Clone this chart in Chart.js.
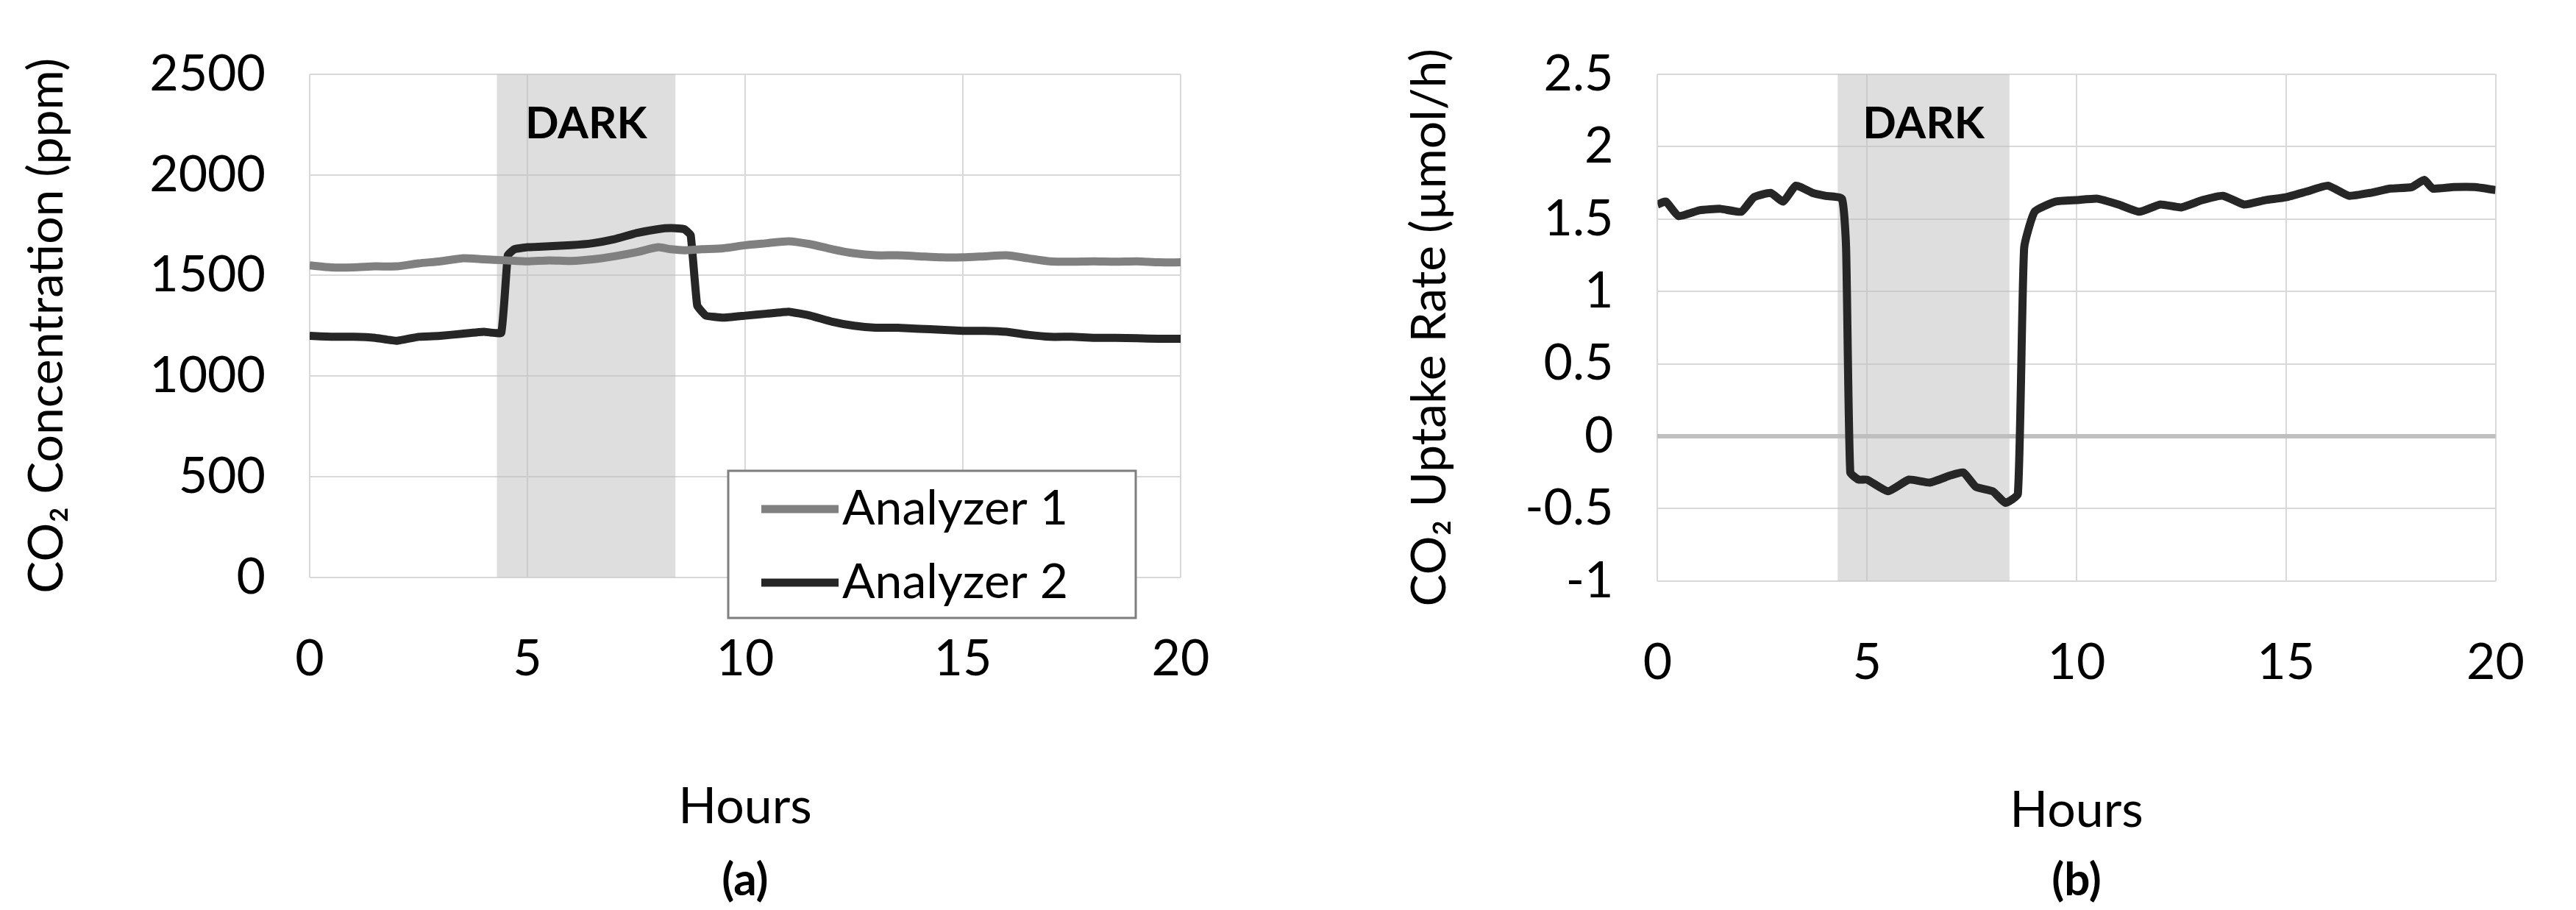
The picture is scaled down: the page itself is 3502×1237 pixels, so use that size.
<!DOCTYPE html>
<html><head><meta charset="utf-8">
<script src="https://cdn.jsdelivr.net/npm/chart.js@4"></script>
<style>
html,body{margin:0;padding:0;background:#fff;}
#wrap{position:relative;width:3502px;height:1237px;}
.c{position:absolute;top:0;height:1237px;}
</style></head><body>
<div id="wrap">
<div class="c" style="left:0;width:1750px"><canvas id="a"></canvas></div>
<div class="c" style="left:1750px;width:1752px"><canvas id="b"></canvas></div>
</div>
<script>
const hoursA1 = [0,0.5,1,1.5,2,2.5,3,3.5,4,4.5,5,5.5,6,6.5,7,7.5,8,8.3,8.6,9,9.5,10,10.5,11,11.5,12,12.5,13,13.5,14,14.5,15,15.5,16,16.5,17,17.5,18,18.5,19,19.5,20];
const analyzer1  = [1550,1540,1540,1545,1545,1560,1570,1585,1580,1575,1570,1575,1572,1580,1595,1615,1640,1630,1625,1630,1635,1650,1660,1670,1655,1630,1610,1600,1600,1595,1590,1590,1595,1600,1585,1570,1568,1570,1568,1570,1565,1565];
const hoursA2 = [0,0.5,1,1.5,2,2.5,3,3.5,4,4.4,4.55,4.7,5,5.5,6,6.5,7,7.5,8,8.3,8.6,8.75,8.9,9.1,9.5,10,10.5,11,11.5,12,12.5,13,13.5,14,14.5,15,15.5,16,16.5,17,17.5,18,18.5,19,19.5,20];
const analyzer2  = [1200,1195,1195,1190,1175,1195,1200,1210,1220,1215,1600,1630,1640,1645,1650,1660,1680,1710,1730,1735,1730,1700,1350,1300,1290,1300,1310,1320,1300,1270,1250,1240,1240,1235,1230,1225,1225,1220,1205,1195,1195,1190,1190,1188,1185,1185];
const hoursB = [0,0.2,0.5,1,1.5,2,2.3,2.7,3,3.3,3.7,4,4.4,4.5,4.6,4.8,5,5.5,6,6.5,7,7.3,7.6,8,8.3,8.6,8.75,9,9.5,10,10.5,11,11.5,12,12.5,13,13.5,14,14.5,15,15.5,16,16.5,17,17.5,18,18.3,18.5,19,19.5,20];
const uptake = [1.6,1.62,1.52,1.56,1.57,1.55,1.65,1.68,1.62,1.73,1.68,1.66,1.64,1.3,-0.25,-0.3,-0.3,-0.38,-0.3,-0.32,-0.27,-0.25,-0.35,-0.38,-0.46,-0.4,1.3,1.55,1.62,1.63,1.64,1.6,1.55,1.6,1.58,1.63,1.66,1.6,1.63,1.65,1.69,1.73,1.66,1.68,1.71,1.72,1.77,1.71,1.72,1.72,1.7];
const darkStart = 4.3, darkEnd = 8.4;
const xTicks = [0,5,10,15,20];

const FONT = 'Lato, "Open Sans", sans-serif';
Chart.defaults.font.family = FONT;
Chart.defaults.color = '#000';

function pts(xs, ys){ return xs.map((x,i)=>({x, y: ys[i]})); }

const darkPlugin = {
  id:'dark',
  beforeDatasetsDraw(chart){
    const {ctx, chartArea:a, scales:{x}} = chart;
    const l = x.getPixelForValue(darkStart), r = x.getPixelForValue(darkEnd);
    ctx.save();
    ctx.fillStyle = 'rgba(190,190,190,0.5)';
    ctx.fillRect(l, a.top, r-l, a.bottom-a.top);
    ctx.fillStyle = '#000';
    ctx.font = 'bold 60px ' + FONT;
    ctx.textAlign = 'center'; ctx.textBaseline = 'middle';
    ctx.fillText('DARK', (l+r)/2, a.top + 68);
    ctx.restore();
  },
  afterDraw(chart){
    const {ctx, chartArea:a} = chart;
    ctx.save();
    ctx.fillStyle = '#000';
    ctx.font = 'bold 62px ' + FONT;
    ctx.textAlign = 'center'; ctx.textBaseline = 'middle';
    ctx.fillText(chart.options.plugins.caption, (a.left+a.right)/2, 1197);
    ctx.restore();
  }
};

const legendPlugin = {
  id:'boxlegend',
  afterDraw(chart){
    if(!chart.options.plugins.boxlegend) return;
    const {ctx} = chart;
    const bx=990, by=640, bw=554, bh=200;
    ctx.save();
    ctx.fillStyle='#fff'; ctx.fillRect(bx,by,bw,bh);
    ctx.strokeStyle='#7f7f7f'; ctx.lineWidth=3; ctx.strokeRect(bx,by,bw,bh);
    chart.data.datasets.forEach((d,i)=>{
      const y = by + 52 + i*100;
      ctx.strokeStyle=d.borderColor; ctx.lineWidth=11;
      ctx.beginPath(); ctx.moveTo(bx+45,y); ctx.lineTo(bx+150,y); ctx.stroke();
      ctx.fillStyle='#000'; ctx.font='66px '+FONT; ctx.textBaseline='middle';
      ctx.fillText(d.label, bx+155, y);
    });
    ctx.restore();
  }
};

function xScale(){
  return {type:'linear', min:0, max:20, afterBuildTicks(s){ s.ticks = xTicks.map(v=>({value:v})); },
    ticks:{font:{size:68}, padding:70},
    grid:{color:'#d9d9d9', lineWidth:2, drawTicks:false},
    border:{display:false},
    title:{display:true, text:'Hours', font:{size:68}, padding:{top:50}}};
}

new Chart(document.getElementById('a'), {
  type:'line',
  data:{datasets:[
    {label:'Analyzer 1', data:pts(hoursA1, analyzer1), borderColor:'#808080', borderWidth:11, pointRadius:0, tension:0.2},
    {label:'Analyzer 2', data:pts(hoursA2, analyzer2), borderColor:'#262626', borderWidth:11, pointRadius:0, tension:0.1}
  ]},
  options:{responsive:true, maintainAspectRatio:false, animation:false,
    layout:{padding:{top:90, right:145, bottom:95, left:20}},
    plugins:{legend:{display:false}, tooltip:{enabled:false}, caption:'(a)', boxlegend:true},
    scales:{x:xScale(),
      y:{min:0, max:2500, ticks:{stepSize:500, font:{size:68}, padding:60, callback:v=>String(v)},
        grid:{color:'#d9d9d9', lineWidth:2, drawTicks:false}, border:{display:false},
        title:{display:true, text:'CO₂ Concentration (ppm)', font:{size:66}, padding:{bottom:40}}}}},
  plugins:[darkPlugin, legendPlugin]
});

new Chart(document.getElementById('b'), {
  type:'line',
  data:{datasets:[
    {label:'Uptake', data:pts(hoursB, uptake), borderColor:'#262626', borderWidth:11, pointRadius:0, tension:0.15}
  ]},
  options:{responsive:true, maintainAspectRatio:false, animation:false,
    layout:{padding:{top:90, right:65, bottom:90, left:150}},
    plugins:{legend:{display:false}, tooltip:{enabled:false}, caption:'(b)'},
    scales:{x:xScale(),
      y:{min:-1, max:2.5, ticks:{stepSize:0.5, font:{size:68}, padding:60, callback:v=>String(v)},
        grid:{color:(c)=>c.tick && c.tick.value===0 ? '#bfbfbf' : '#d9d9d9', lineWidth:(c)=>c.tick && c.tick.value===0 ? 6 : 2, drawTicks:false}, border:{display:false},
        title:{display:true, text:'CO₂ Uptake Rate (µmol/h)', font:{size:66}, padding:{bottom:30}}}}},
  plugins:[darkPlugin]
});
</script>
</body></html>
